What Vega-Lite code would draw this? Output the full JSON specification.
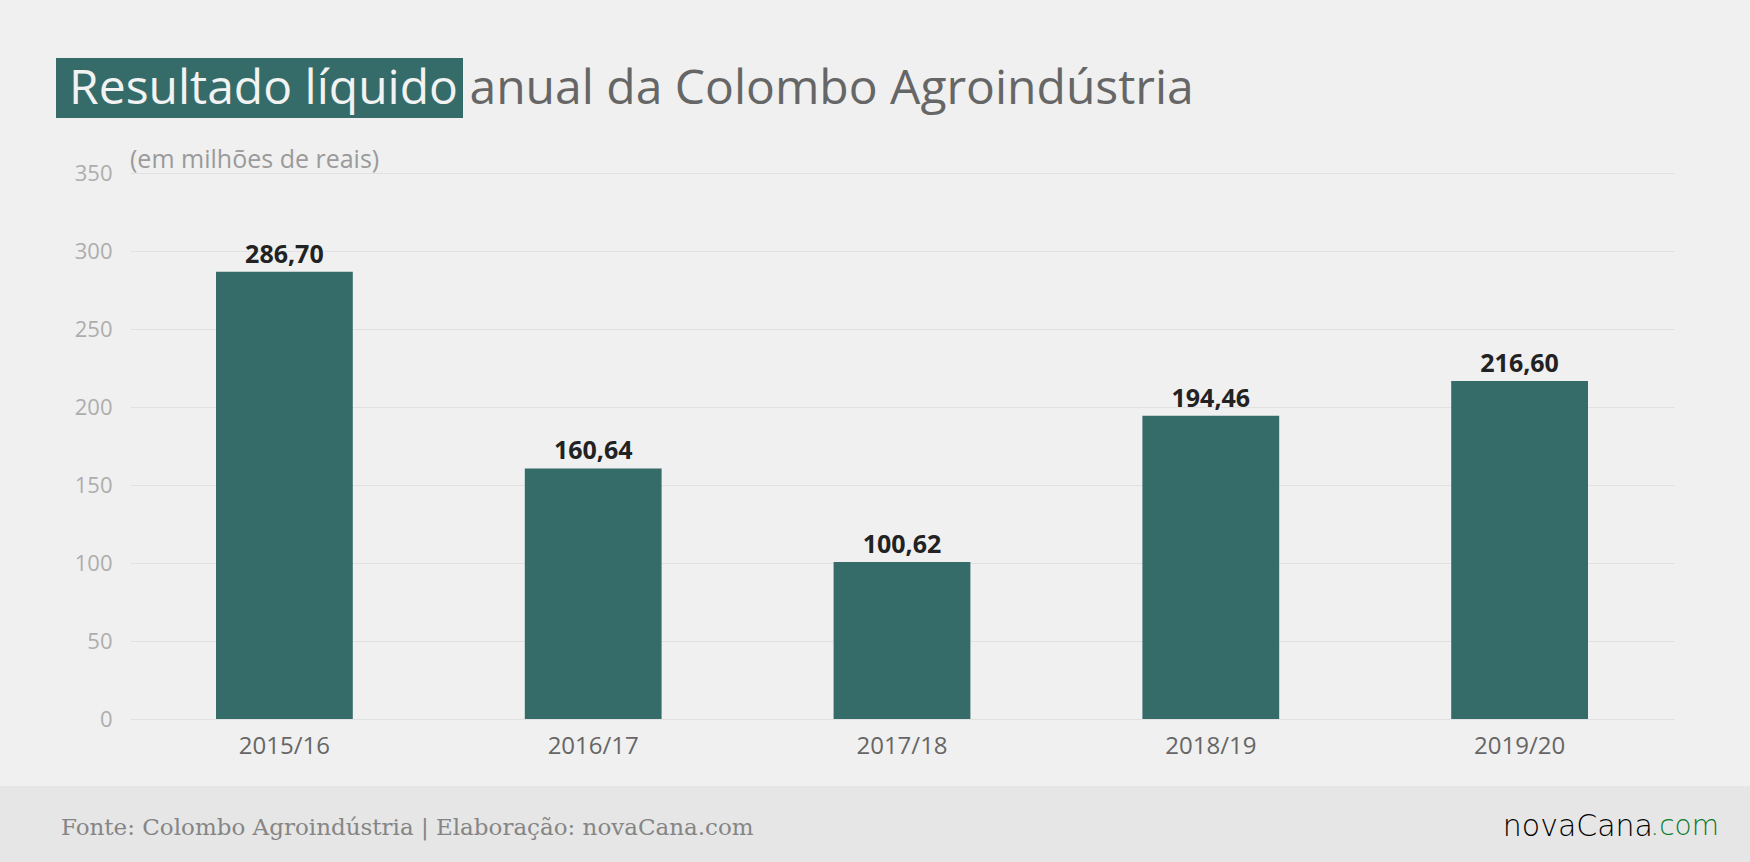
{
  "$schema": "https://vega.github.io/schema/vega-lite/v6.json",
  "background": "#f0f0f0",
  "padding": {"left": 0, "top": 58, "right": 0, "bottom": 0},
  "spacing": 30,
  "vconcat": [
    {
      "hconcat": [
        {
          "width": 50, "height": 60,
          "data": {"values": [{"t": ""}]},
          "mark": {"type": "text"},
          "encoding": {"text": {"field": "t"}}
        },
        {
          "width": 407, "height": 60,
          "view": {"fill": "#356c69"},
          "data": {"values": [{"t": "Resultado líquido"}]},
          "mark": {"type": "text", "font": "Open Sans", "fontSize": 48, "fontWeight": 500, "color": "#f2f2f2", "align": "center", "baseline": "middle", "dy": 2, "dx": 4},
          "encoding": {"text": {"field": "t"}}
        },
        {
          "width": 1, "height": 60,
          "data": {"values": [{"t": "anual da Colombo Agroindústria"}]},
          "mark": {"type": "text", "font": "Open Sans", "fontSize": 48, "fontWeight": 500, "color": "#666666", "align": "left", "baseline": "middle", "dy": 2},
          "encoding": {"text": {"field": "t"}}
        }
      ],
      "spacing": 6
    },
    {
      "spacing": 28,
      "vconcat": [
        {
          "spacing": 0,
          "hconcat": [
            {
              "width": 1, "height": 1,
              "data": {"values": [{"t": ""}]},
              "mark": {"type": "text"},
              "encoding": {"text": {"field": "t"}}
            },
            {
              "width": 1544, "height": 546,
              "title": {"text": "(em milhões de reais)", "anchor": "start", "frame": "group", "offset": -11, "font": "Open Sans", "fontSize": 25, "fontWeight": "normal", "color": "#9a9a9a"},
              "data": {
                "values": [
                  {"safra": "2015/16", "resultado": 286.70},
                  {"safra": "2016/17", "resultado": 160.64},
                  {"safra": "2017/18", "resultado": 100.62},
                  {"safra": "2018/19", "resultado": 194.46},
                  {"safra": "2019/20", "resultado": 216.60}
                ]
              },
              "encoding": {
                "x": {
                  "field": "safra", "type": "nominal", "sort": null,
                  "scale": {"paddingInner": 0.557, "paddingOuter": 0.2785},
                  "axis": {"title": null, "labelAngle": 0, "domain": false, "ticks": false, "labelPadding": 15, "labelFont": "Open Sans", "labelFontSize": 24, "labelColor": "#666666"}
                },
                "y": {
                  "field": "resultado", "type": "quantitative",
                  "scale": {"domain": [0, 350], "nice": false},
                  "axis": {"title": null, "values": [0, 50, 100, 150, 200, 250, 300, 350], "domain": false, "ticks": false, "labelPadding": 18, "labelFont": "Open Sans", "labelFontSize": 22, "labelColor": "#adadad", "gridColor": "#e1e1e1", "gridWidth": 1, "minExtent": 129, "maxExtent": 129}
                }
              },
              "layer": [
                {"mark": {"type": "bar", "color": "#356c69"}},
                {
                  "mark": {"type": "text", "baseline": "bottom", "dy": -4, "font": "Open Sans", "fontSize": 25, "fontWeight": "bold", "color": "#222222"},
                  "encoding": {"text": {"field": "resultado", "type": "quantitative", "format": ",.2f"}}
                }
              ]
            }
          ]
        },
        {
          "hconcat": [
            {
              "width": 61, "height": 77,
              "view": {"fill": "#e6e6e6"},
              "data": {"values": [{"t": ""}]},
              "mark": {"type": "text"},
              "encoding": {"text": {"field": "t"}}
            },
            {
              "width": 1658, "height": 77,
              "view": {"fill": "#e6e6e6"},
              "data": {
                "values": [
                  {"lado": "esq", "parte": "fonte", "t": "Fonte: Colombo Agroindústria | Elaboração: novaCana.com"},
                  {"lado": "dir", "parte": "nova", "t": "novaCana"},
                  {"lado": "dir", "parte": "com", "t": ".com"}
                ]
              },
              "encoding": {
                "x": {"field": "lado", "type": "nominal", "scale": {"type": "point", "padding": 0, "domain": ["esq", "dir"]}, "axis": null},
                "text": {"field": "t"}
              },
              "layer": [
                {
                  "transform": [{"filter": "datum.parte === 'fonte'"}],
                  "mark": {"type": "text", "align": "left", "baseline": "middle", "dy": 3, "font": "DejaVu Serif", "fontSize": 23, "color": "#858585"}
                },
                {
                  "transform": [{"filter": "datum.parte === 'com'"}],
                  "mark": {"type": "text", "align": "right", "baseline": "middle", "dy": 2, "font": "DejaVu Sans", "fontSize": 28, "fontWeight": 300, "color": "#0a7a2c"}
                },
                {
                  "transform": [{"filter": "datum.parte === 'nova'"}],
                  "mark": {"type": "text", "align": "right", "baseline": "middle", "dy": 2, "dx": -66, "font": "DejaVu Sans", "fontSize": 30, "fontWeight": 300, "color": "#000000"}
                }
              ]
            },
            {
              "width": 31, "height": 77,
              "view": {"fill": "#e6e6e6"},
              "data": {"values": [{"t": ""}]},
              "mark": {"type": "text"},
              "encoding": {"text": {"field": "t"}}
            }
          ],
          "spacing": 0
        }
      ]
    }
  ],
  "config": {
    "view": {"stroke": null},
    "locale": {"number": {"decimal": ",", "thousands": ".", "grouping": [3], "currency": ["R$", ""]}}
  }
}
